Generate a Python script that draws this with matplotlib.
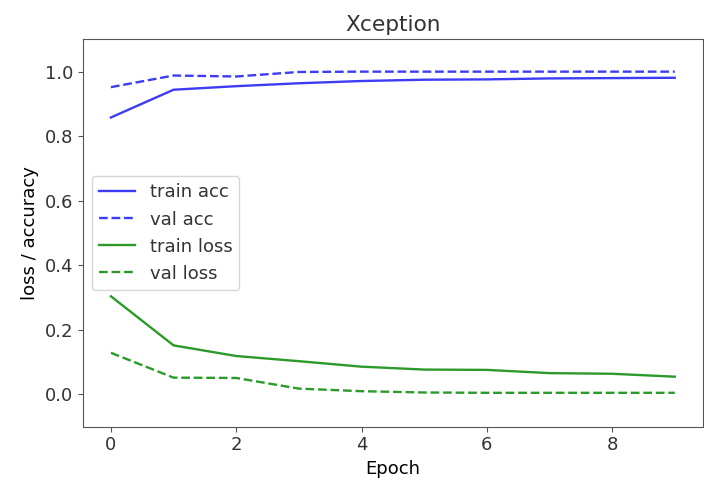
import matplotlib.pyplot as plt
import numpy as np

epochs = np.arange(10)
train_acc = [0.858, 0.944, 0.955, 0.964, 0.971, 0.975, 0.976, 0.979, 0.980, 0.981]
val_acc = [0.952, 0.988, 0.985, 0.999, 1.0, 1.0, 1.0, 1.0, 1.0, 1.0]
train_loss = [0.304, 0.152, 0.119, 0.103, 0.086, 0.077, 0.076, 0.066, 0.064, 0.055]
val_loss = [0.129, 0.052, 0.051, 0.018, 0.010, 0.006, 0.005, 0.005, 0.005, 0.005]

plt.rcParams['font.size'] = 13
plt.rcParams['text.color'] = '#333333'
plt.rcParams['xtick.labelcolor'] = '#333333'
plt.rcParams['ytick.labelcolor'] = '#333333'

fig = plt.figure(figsize=(7.04, 4.86), dpi=100)
ax = fig.add_axes([0.1175, 0.122, 0.881, 0.797])

ax.plot(epochs, train_acc, color='#3c3cf5', lw=1.7, label='train acc')
ax.plot(epochs, val_acc, color='#3c3cf5', lw=1.7, ls='--', label='val acc')
ax.plot(epochs, train_loss, color='#2b9a2b', lw=1.7, label='train loss')
ax.plot(epochs, val_loss, color='#2b9a2b', lw=1.7, ls='--', label='val loss')

ax.set_ylim(-0.1, 1.1)
ax.set_xlim(-0.45, 9.45)
ax.set_xticks([0, 2, 4, 6, 8])
ax.set_yticks([0.0, 0.2, 0.4, 0.6, 0.8, 1.0])
for s in ax.spines.values():
    s.set_color('#555555')
ax.tick_params(color='#555555')
ax.set_title('Xception')
ax.set_xlabel('Epoch')
ax.set_ylabel('loss / accuracy')
ax.legend(loc='center left')

fig.savefig('out.png', dpi=100)
